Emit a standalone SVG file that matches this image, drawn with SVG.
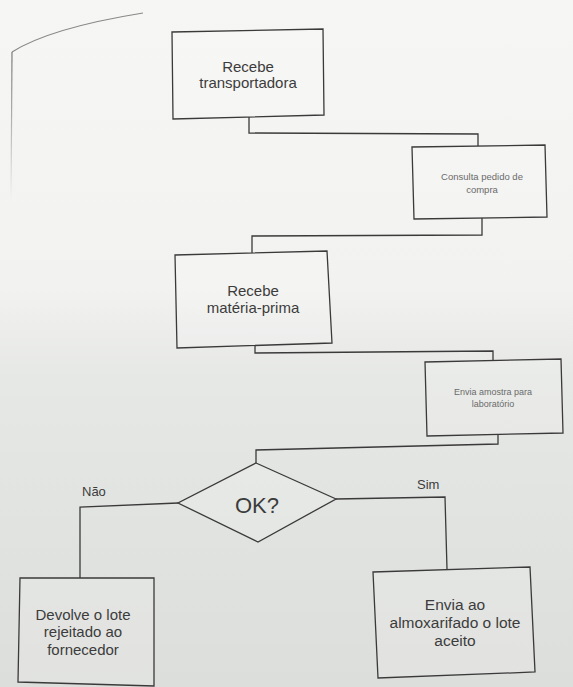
<svg xmlns="http://www.w3.org/2000/svg" width="573" height="687" viewBox="0 0 573 687">
<defs>
<linearGradient id="bg" x1="0" y1="0" x2="0" y2="1">
<stop offset="0" stop-color="#f6f6f4"/>
<stop offset="0.42" stop-color="#f2f2f0"/>
<stop offset="0.55" stop-color="#e6e8e5"/>
<stop offset="1" stop-color="#dcdedb"/>
</linearGradient>
<linearGradient id="edge" x1="0" y1="0" x2="0" y2="1">
<stop offset="0" stop-color="#777"/>
<stop offset="1" stop-color="#777" stop-opacity="0"/>
</linearGradient>
</defs>
<style>
.box{fill:#ffffff;fill-opacity:0.15;stroke:#3a3a3a;stroke-width:1.3;}
.con{fill:none;stroke:#3a3a3a;stroke-width:1.3;}
.t{font-family:"Liberation Sans",Arial,sans-serif;fill:#3c3c3c;text-anchor:middle;}
.big{font-size:15px;}
.sm{font-size:9.5px;fill:#6a6a6a;}
.lbl{font-family:"Liberation Sans",Arial,sans-serif;font-size:13px;fill:#3c3c3c;}
</style>
<rect x="0" y="0" width="573" height="687" fill="url(#bg)"/>
<path d="M12,52 Q50,28 143,13" fill="none" stroke="#888" stroke-width="1.2"/>
<path d="M12,52 L11,200" fill="none" stroke="url(#edge)" stroke-width="1.2"/>

<g id="connectors">
<polyline class="con" points="249,117 249,133 478,134 478,146"/>
<polyline class="con" points="482,218 482,235 252,236 252,253"/>
<polyline class="con" points="255,346 255,353 493,351 493,360"/>
<polyline class="con" points="498,435 498,444 256,450 256,463"/>
<polyline class="con" points="178,503 80,507 80,578"/>
<polyline class="con" points="336,499 445,497 447,569"/>
</g>

<g id="n1">
<polygon class="box" points="172,32 323,29 324,115 173,119"/>
<text class="t big" x="248" y="72">Recebe</text>
<text class="t big" x="248" y="88">transportadora</text>
</g>
<g id="n2">
<polygon class="box" points="412,147 545,145 547,217 414,219"/>
<text class="t sm" x="482" y="180">Consulta pedido de</text>
<text class="t sm" x="482" y="193">compra</text>
</g>
<g id="n3">
<polygon class="box" points="175,255 327,251 332,343 177,348"/>
<text class="t big" x="253" y="296">Recebe</text>
<text class="t big" x="253" y="313">matéria-prima</text>
</g>
<g id="n4">
<polygon class="box" points="425,362 561,359 563,433 427,436"/>
<text class="t sm" style="font-size:9px" x="493" y="395">Envia amostra para</text>
<text class="t sm" style="font-size:9px" x="493" y="407">laboratório</text>
</g>
<g id="n5">
<polygon class="box" points="256,463 336,499 258,542 178,503"/>
<text class="t" style="font-size:22px" x="257" y="513">OK?</text>
</g>
<g id="n6">
<polygon class="box" points="20,578 154,578 154,686 18,682"/>
<text class="t big" x="83" y="620">Devolve o lote</text>
<text class="t big" x="83" y="637">rejeitado ao</text>
<text class="t big" x="83" y="655">fornecedor</text>
</g>
<g id="n7">
<polygon class="box" points="373,572 530,567 535,672 378,678"/>
<text class="t big" style="font-size:15.5px" x="455" y="610">Envia ao</text>
<text class="t big" style="font-size:15.5px" x="455" y="628">almoxarifado o lote</text>
<text class="t big" style="font-size:15.5px" x="455" y="646">aceito</text>
</g>
<text class="lbl" x="82" y="496">Não</text>
<text class="lbl" x="417" y="489">Sim</text>
</svg>
